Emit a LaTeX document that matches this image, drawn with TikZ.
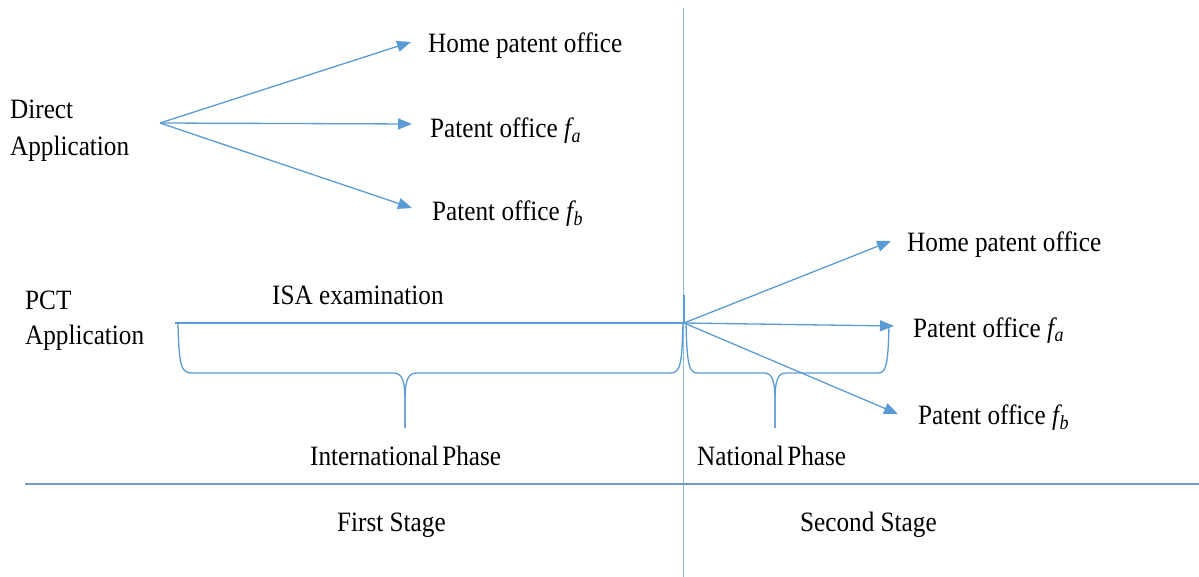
\documentclass[tikz,border=0pt]{standalone}
\usepackage{fontspec}
\setmainfont{Liberation Serif}[FakeStretch=0.9]
\usetikzlibrary{arrows.meta}
\definecolor{ablue}{HTML}{5B9BD5}
\definecolor{lblue}{HTML}{8FB8E0}
\definecolor{sblue}{HTML}{6F9DC6}
\newcommand{\sub}[1]{\textit{f\kern0.5pt}\raisebox{-5pt}{\fontsize{20}{20}\selectfont\itshape #1}}
\begin{document}
\begin{tikzpicture}[x=1pt,y=-1pt,
  lbl/.style={inner sep=0pt, font=\fontsize{28}{36}\selectfont, text=black},
  ml/.style={lbl, align=left},
  arr/.style={draw=ablue, line width=1.3pt, -{Triangle[length=14pt,width=11pt]}},
  brc/.style={draw=ablue, line width=1.3pt},
]
\useasboundingbox (0,0) rectangle (1199,577);

% divider lines
\coordinate (vtop) at (683,8);
\coordinate (vbot) at (683,577);
\draw[lblue, line width=0.7pt] (vtop) -- (vbot);
\coordinate (hl) at (25,484);
\coordinate (hr) at (1199,484);
\draw[sblue, line width=1.8pt] (hl) -- (hr);

% Direct application
\node[ml, anchor=west] (da) at (10,131) {Direct\\[1pt]Application};
\coordinate (do) at (160,123);
\node[lbl, anchor=base west] (h1) at (428,53) {Home patent office};
\node[lbl, anchor=base west] (a1) at (430,138) {Patent office \sub{a}};
\node[lbl, anchor=base west] (b1) at (432,221) {Patent office \sub{b}};
\coordinate (th1) at (411,42);
\coordinate (ta1) at (412,124);
\coordinate (tb1) at (412,208);
\draw[arr] (do) -- (th1);
\draw[arr] (do) -- (ta1);
\draw[arr] (do) -- (tb1);

% PCT application
\node[ml, anchor=west] (pct) at (25,321) {PCT\\[-1pt]Application};
\node[lbl, anchor=base west] (isa) at (272,305) {ISA examination};
\coordinate (ps) at (175,323);
\coordinate (po) at (684,323);
\draw[ablue, line width=1.4pt] (ps) -- (po);
\coordinate (pt) at (684,295);
\draw[ablue, line width=1.6pt] (pt) -- (po);

\node[lbl, anchor=base west] (h2) at (907,252) {Home patent office};
\node[lbl, anchor=base west] (a2) at (913,337) {Patent office \sub{a}};
\node[lbl, anchor=base west] (b2) at (918,424) {Patent office \sub{b}};
\coordinate (th2) at (891,241);
\coordinate (ta2) at (894,326);
\coordinate (tb2) at (898,414);
\draw[arr] (po) -- (th2);
\draw[arr] (po) -- (ta2);
\draw[arr] (po) -- (tb2);

% braces
\draw[brc] (178,323) .. controls (179,366) and (181,373) .. (192,373) -- (393,373)
  .. controls (402,373) and (405,380) .. (405,400) -- (405,428);
\draw[brc] (405,428) -- (405,400) .. controls (405,380) and (408,373) .. (417,373)
  -- (670,373) .. controls (680,373) and (682,366) .. (683,323);
\draw[brc] (686,323) .. controls (687,366) and (689,373) .. (698,373) -- (764,373)
  .. controls (772,373) and (775,380) .. (775,400) -- (775,428);
\draw[brc] (775,428) -- (775,400) .. controls (775,380) and (778,373) .. (786,373)
  -- (878,373) .. controls (886,373) and (888,366) .. (889,326);

\node[lbl, anchor=base west] (ip) at (310,465) {International\kern-3pt\ Phase};
\node[lbl, anchor=base west] (np) at (697,465) {National\kern-3pt\ Phase};
\node[lbl, anchor=base west] (fs) at (337,531) {First Stage};
\node[lbl, anchor=base west] (ss) at (800,531) {Second Stage};
\end{tikzpicture}
\end{document}
